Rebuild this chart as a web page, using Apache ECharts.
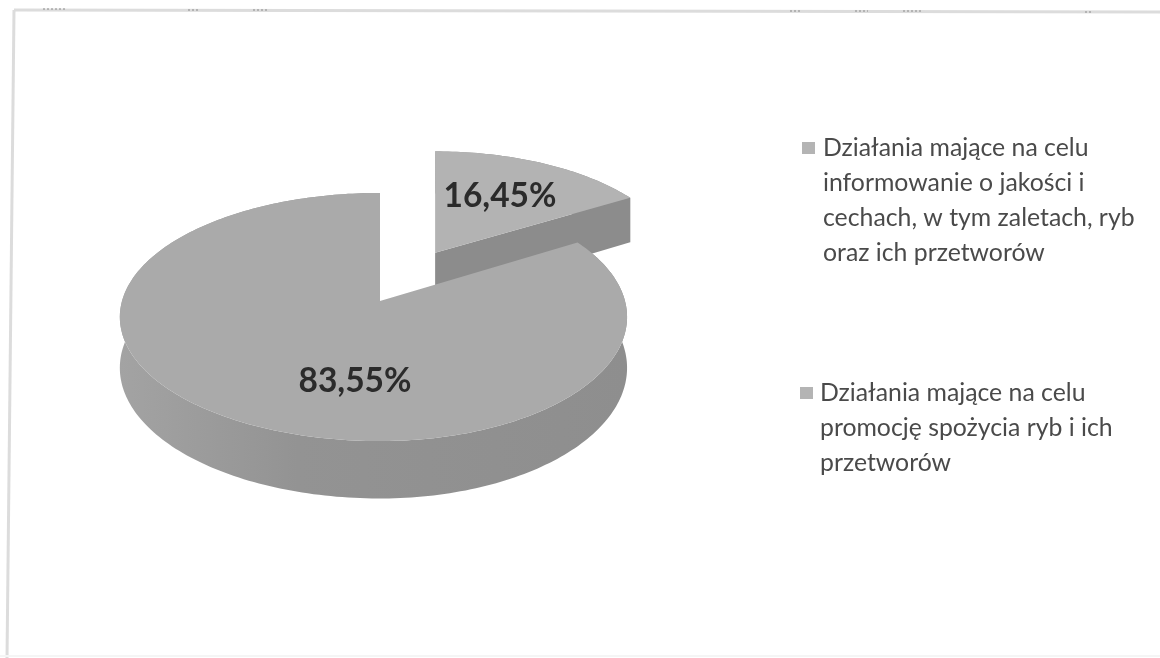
<!DOCTYPE html>
<html>
<head>
<meta charset="utf-8">
<script src="https://cdn.jsdelivr.net/npm/echarts@6/dist/echarts.min.js"></script>
<style>
	html, body { margin: 0; padding: 0; background: #fff; }
	#chart { width: 1160px; height: 658px; }
</style>
</head>
<body>
<div id="chart"></div>
<script>
	var sliceNames = [
		'Działania mające na celu\ninformowanie o jakości i\ncechach, w tym zaletach, ryb\noraz ich przetworów',
		'Działania mające na celu\npromocję spożycia ryb i ich\nprzetworów'
	];
	var sliceValues = [16.45, 83.55];

	var topColors = ['#b3b3b3', '#aaaaaa'];
	var wallColors = ['#8c8c8c', '#939393'];

	var chart = echarts.init(document.getElementById('chart'));

	// pie geometry: the tilted disc is projected with a little perspective
	var cx = 380, cy = 301, rxLeft = 258, rxRight = 245, ry = 122, persp = 0.129, depth = 50;
	var explode = [0.48, 0];
	var sliceScale = [1.04, 1];
	var labelPos = [[500, 196], [355, 381]];

	// ou, ov is the slice's own offset, its apex stays put in x under perspective
	function project(ou, ov, u, v, drop) {
		var w = 1 - persp * (ov + v);
		var w0 = 1 - persp * ov;
		var x = u + ou;
		return [
			cx + rxRight * ou / w0 + (x < 0 ? rxLeft : rxRight) * u / w,
			cy + (ry * (ov + v) + (drop ? depth : 0)) / w
		];
	}

	function renderSlice(params, api) {
		var idx = params.dataIndex;
		var total = sliceValues.reduce(function (a, b) { return a + b; }, 0);
		var before = 0;
		for (var i = 0; i < idx; i++) {
			before += sliceValues[i];
		}
		var start = before / total * Math.PI * 2;
		var end = (before + api.value(0)) / total * Math.PI * 2;
		var mid = (start + end) / 2;
		var ou = Math.sin(mid) * explode[idx];
		var ov = -Math.cos(mid) * explode[idx];
		var r = sliceScale[idx];

		var rim = [], rimLow = [];
		var steps = Math.ceil((end - start) / 0.02);
		for (var s = 0; s <= steps; s++) {
			var a = start + (end - start) * s / steps;
			var u = r * Math.sin(a);
			var v = -r * Math.cos(a);
			rim.push(project(ou, ov, u, v, false));
			rimLow.push(project(ou, ov, u, v, true));
		}
		var apex = project(ou, ov, 0, 0, false);
		var apexLow = project(ou, ov, 0, 0, true);

		var children = [];
		// outer wall
		children.push({
			type: 'polygon',
			shape: { points: rim.concat(rimLow.slice().reverse()) },
			style: {
				fill: new echarts.graphic.LinearGradient(0, 0, 1, 0, [
					{ offset: 0, color: '#a3a3a3' },
					{ offset: 0.35, color: wallColors[idx] },
					{ offset: 1, color: '#8e8e8e' }
				])
			}
		});
		// cut wall facing the viewer (only the exploded slice shows one)
		if (idx === 0) {
			children.push({
				type: 'polygon',
				shape: { points: [apex, rim[rim.length - 1], rimLow[rimLow.length - 1], apexLow] },
				style: { fill: wallColors[idx] }
			});
		}
		// top face
		children.push({
			type: 'polygon',
			shape: { points: [apex].concat(rim) },
			style: { fill: topColors[idx] }
		});
		children.push({
			type: 'text',
			x: labelPos[idx][0],
			y: labelPos[idx][1],
			style: {
				text: api.value(0).toFixed(2).replace('.', ',') + '%',
				font: 'bold 33.5px Lato',
				fill: '#2b2b2b',
				align: 'center',
				verticalAlign: 'middle'
			}
		});
		return { type: 'group', children: children };
	}

	function legendItem(i, iconX, iconY, textX, textY) {
		return [{
			type: 'rect',
			shape: { x: iconX, y: iconY, width: 13, height: 12 },
			style: { fill: '#b4b4b4' }
		}, {
			type: 'text',
			x: textX,
			y: textY,
			style: {
				text: sliceNames[i],
				font: '24.8px Lato',
				lineHeight: 35,
				fill: '#4a4a4a'
			}
		}];
	}

	var scanLine = { stroke: '#dcdcdc', lineWidth: 3 };
	var scanSpeck = { stroke: '#8a8a8a', lineWidth: 1, lineDash: [2, 2] };

	function speck(x1, x2, y) {
		return { type: 'line', z: 2, shape: { x1: x1, y1: y, x2: x2, y2: y }, style: scanSpeck };
	}

	var option = {
		backgroundColor: '#ffffff',
		animation: false,
		series: [{
			type: 'custom',
			coordinateSystem: 'none',
			renderItem: renderSlice,
			data: sliceValues.map(function (v, i) { return { name: sliceNames[i], value: [v] }; })
		}],
		graphic: [
			{ type: 'line', shape: { x1: 14, y1: 10, x2: 1160, y2: 12 }, style: scanLine },
			{ type: 'line', shape: { x1: 14, y1: 10, x2: 7, y2: 658 }, style: scanLine },
			{ type: 'line', shape: { x1: 0, y1: 656, x2: 1160, y2: 656 }, style: { stroke: '#f5f5f5', lineWidth: 2 } },
			speck(43, 65, 9), speck(188, 200, 10), speck(253, 267, 10), speck(790, 800, 11),
			speck(855, 868, 11), speck(903, 923, 11), speck(1085, 1093, 12)
		].concat(legendItem(0, 802, 142, 823, 131)).concat(legendItem(1, 800, 387, 820, 376))
	};

	chart.setOption(option);
</script>
</body>
</html>
